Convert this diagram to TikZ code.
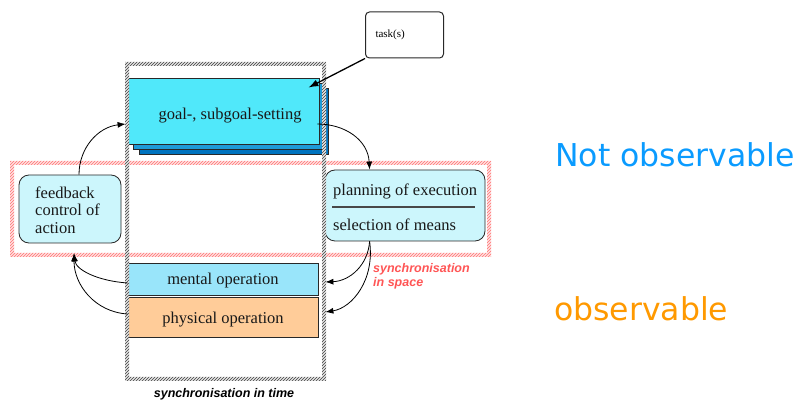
\documentclass[tikz,border=0pt]{standalone}
\usepackage{fontspec}
\setmainfont{Liberation Serif}
\newfontfamily\arialfont{Liberation Sans}
\newfontfamily\dejavufont{DejaVu Sans}
\usetikzlibrary{patterns,arrows.meta,calc}

\definecolor{goalfront}{RGB}{80,232,250}
\definecolor{goalmid}{RGB}{30,155,215}
\definecolor{goalback}{RGB}{0,115,190}
\definecolor{softcyan}{RGB}{204,246,252}
\definecolor{mentalblue}{RGB}{153,229,250}
\definecolor{physorange}{RGB}{255,204,153}
\definecolor{notobs}{RGB}{10,155,255}
\definecolor{obscol}{RGB}{255,153,0}
\definecolor{syncred}{RGB}{255,85,85}
\definecolor{edgegray}{RGB}{40,40,40}

\tikzset{
  box/.style={draw=edgegray, line width=0.8pt, inner sep=0pt},
  softbox/.style={box, fill=softcyan, rounded corners=10pt},
  serif/.style={font=\fontsize{16.5}{17.5}\selectfont, text=black!90, inner sep=0pt},
  flow/.style={line width=0.8pt, -{Latex[length=8pt,width=6pt]}},
  redstrip/.style={even odd rule, fill=red!12},
  redhatch/.style={even odd rule, pattern=north east lines, pattern color=red!55},
  timestrip/.style={even odd rule, fill=black!10},
  timehatch/.style={even odd rule, pattern=north east lines, pattern color=black!75},
  synclabel/.style={font=\arialfont\bfseries\itshape\fontsize{12.5}{14}\selectfont, inner sep=0pt},
}

\begin{document}
\begin{tikzpicture}[x=1pt,y=-1pt]
\useasboundingbox (0,0) rectangle (801,403);

% stacked goal-setting boxes
\node[box, fill=goalback, minimum width=189pt, minimum height=66pt] (goalC) at (233.5,121) {};
\node[box, fill=goalmid, minimum width=190pt, minimum height=66pt] (goalB) at (228,116) {};
\node[box, fill=goalfront, minimum width=191pt, minimum height=66pt] (goal) at (223.5,111) {};
\node[serif, anchor=base] (goaltext) at (230,120) {goal-, subgoal-setting};

% task callout
\node[box, fill=white, rounded corners=4pt, line width=1pt, text width=58pt, inner xsep=10pt,
      minimum height=46pt, align=left, font=\fontsize{11}{13}\selectfont] (task) at (404.5,35) {task(s)};

% feedback box
\node[softbox, minimum width=102pt, minimum height=68pt] (feedback) at (70,209) {};
\node[serif, anchor=north west, align=left] (fbtext) at (35,186.5) {feedback\\control of\\action};

% planning box
\node[softbox, minimum width=160pt, minimum height=71pt] (plan) at (405,205.5) {};
\node[serif, anchor=base west] (planA) at (333,196) {planning of execution};
\node[serif, anchor=base west] (planB) at (333,231) {selection of means};
\draw[line width=1.2pt, edgegray!85] (332,207) -- (475,207);

% operation boxes (text raised height keeps the baseline low in the box)
\node[box, fill=mentalblue, minimum width=190pt, minimum height=32pt, serif,
      text height=12pt, text depth=0pt] (mental) at (223,279) {mental operation};
\node[box, fill=physorange, minimum width=190pt, minimum height=40pt, serif,
      text height=14pt, text depth=0pt] (physical) at (223,317) {physical operation};

% synchronisation in space frame
\path[redstrip] (10,161) rectangle (491,257) (14,165) rectangle (487,253);
\path[redhatch] (10,161) rectangle (491,257) (14,165) rectangle (487,253);

% synchronisation in time frame
\path[timestrip] (125,62) rectangle (326,381) (129,66) rectangle (322,377);
\path[timehatch] (125,62) rectangle (326,381) (129,66) rectangle (322,377);

% connectors
\draw[line width=1.3pt, -{Latex[length=10pt,width=7pt]}] (task.south west) -- ($(goal.north east)+(-11,10)$);

\coordinate (g-out) at ($(goal.east)+(-2,13)$);
\coordinate (p-in) at ($(plan.north west)+(45,0)$);
\coordinate (p-out) at ($(plan.south west)+(45,0)$);
\coordinate (fb-out) at ($(feedback.north)+(9,0)$);
\coordinate (fb-in) at ($(feedback.south)+(4,10)$);
\coordinate (g-in) at ($(goal.west)+(-2,13)$);
\coordinate (m-in) at ($(mental.east)+(7,3)$);
\coordinate (ph-in) at ($(physical.east)+(7,-5)$);
\coordinate (m-out) at ($(mental.west)+(0,4)$);
\coordinate (ph-out) at ($(physical.west)+(0,-3)$);

\draw[flow] (g-out) .. controls (345,124) and (368,140) .. (p-in);
\draw[flow] (fb-out) .. controls (79,148) and (98,127) .. (g-in);
\draw[flow] (m-out) .. controls (98,281) and (76,270) .. (fb-in);
\draw[flow] (ph-out) .. controls (95,312) and (74,285) .. (fb-in);
\draw[flow] (p-out) .. controls (368,265) and (350,281) .. (m-in);
\draw[flow] (p-out) .. controls (375,280) and (352,308) .. (ph-in);

% labels
\node[synclabel, text=syncred, align=left, anchor=north west] (syncspace) at (373,263) {synchronisation\\in space};
\node[synclabel, anchor=base] (synctime) at (224,398) {synchronisation in time};

\node[font=\dejavufont\fontsize{31.5}{36}\selectfont, text=notobs, anchor=base west, inner sep=0pt] (notobsl) at (555,167) {Not observable};
\node[font=\dejavufont\fontsize{31.5}{36}\selectfont, text=obscol, anchor=base west, inner sep=0pt] (obsl) at (554,321) {observable};
\end{tikzpicture}
\end{document}
